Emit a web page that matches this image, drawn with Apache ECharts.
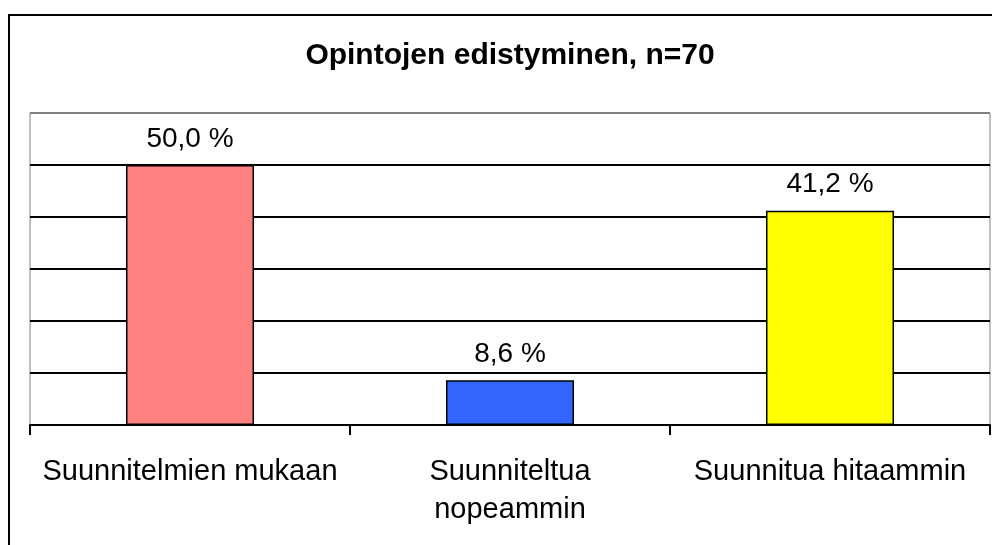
<!DOCTYPE html>
<html>
<head>
<meta charset="utf-8">
<script src="https://cdn.jsdelivr.net/npm/echarts@6/dist/echarts.min.js"></script>
<style>
html, body { margin: 0; padding: 0; background: #fff; }
#main { width: 992px; height: 545px; }
</style>
</head>
<body>
<div id="main"></div>
<script>
var categories = ['Suunnitelmien mukaan', 'Suunniteltua\nnopeammin', 'Suunnitua hitaammin'];
var values = [50.0, 8.6, 41.2];
var barColors = ['#FF8080', '#3366FF', '#FFFF00'];

var myChart = echarts.init(document.getElementById('main'));
var option = {
	backgroundColor: '#fff',
	animation: false,
	title: {
		text: 'Opintojen edistyminen, n=70',
		left: 505,
		top: 36,
		textAlign: 'center',
		textStyle: {
			fontFamily: 'Liberation Sans',
			fontSize: 30,
			fontWeight: 'bold',
			color: '#000'
		}
	},
	graphic: [{
		type: 'rect',
		shape: { x: 9, y: 15, width: 2000, height: 2000 },
		style: { fill: 'none', stroke: '#000', lineWidth: 2 },
		z: 100
	}],
	grid: {
		left: 30,
		right: 2,
		top: 113,
		bottom: 120,
		show: true,
		borderColor: '#808080',
		borderWidth: 1,
		containLabel: false
	},
	xAxis: {
		type: 'category',
		data: categories,
		axisLine: { lineStyle: { color: '#000', width: 2 } },
		axisTick: { show: true, interval: 0, alignWithLabel: false, length: 10, lineStyle: { color: '#000', width: 2 } },
		axisLabel: {
			interval: 0,
			hideOverlap: false,
			margin: 28,
			fontFamily: 'Liberation Sans',
			fontSize: 29,
			lineHeight: 38,
			color: '#000'
		}
	},
	yAxis: {
		type: 'value',
		min: 0,
		max: 60,
		interval: 10,
		axisLine: { show: false },
		axisTick: { show: false },
		axisLabel: { show: false },
		splitLine: {
			lineStyle: {
				color: ['#000', '#000', '#000', '#000', '#000', '#000', '#808080'],
				width: 2
			}
		}
	},
	series: [{
		type: 'bar',
		barWidth: '40%',
		data: values.map(function (v, i) {
			return { value: v, itemStyle: { color: barColors[i] } };
		}),
		itemStyle: { borderColor: '#000', borderWidth: 1.5 },
		label: {
			show: true,
			position: 'top',
			distance: 12,
			fontFamily: 'Liberation Sans',
			fontSize: 28,
			color: '#000',
			formatter: function (p) {
				return p.value.toFixed(1).replace('.', ',') + ' %';
			}
		}
	}]
};
myChart.setOption(option);
</script>
</body>
</html>
